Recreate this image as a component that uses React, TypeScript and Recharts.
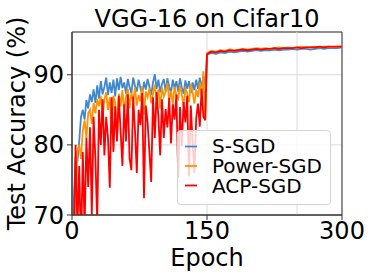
import React from 'react';
import { LineChart, Line, XAxis, YAxis, CartesianGrid, ReferenceLine, ReferenceArea, Legend } from 'recharts';

const FONT = '"DejaVu Sans", Verdana, sans-serif';

const title = 'VGG-16 on Cifar10';
const xLabel = 'Epoch';
const yLabel = 'Test Accuracy (%)';
const xTicks = [0, 150, 300];
const yTicks = [70, 80, 90];
const seriesNames = ['S-SGD', 'Power-SGD', 'ACP-SGD'];
const seriesColors = ['#3f88cf', '#ff9200', '#ff0000'];

const preEpochs = [
  0, 2, 4, 6, 8, 10, 12, 14, 16, 18,
  20, 22, 24, 26, 28, 30, 32, 34, 36, 38,
  40, 42, 44, 46, 48, 50, 52, 54, 56, 58,
  60, 62, 64, 66, 68, 70, 72, 74, 76, 78,
  80, 82, 84, 86, 88, 90, 92, 94, 96, 98,
  100, 102, 104, 106, 108, 110, 112, 114, 116, 118,
  120, 122, 124, 126, 128, 130, 132, 134, 136, 138,
  140, 142, 144, 146, 148, 150,
];
const postEpochs = [
  151, 153, 155, 160, 165, 170, 175, 180, 185, 190,
  195, 200, 205, 210, 215, 220, 225, 230, 235, 240,
  245, 250, 255, 260, 265, 270, 275, 280, 285, 290,
  295, 300,
];

const sSgdPre = [
  60, 72, 78.3, 77.5, 80.5, 84, 85, 83.6, 86.4, 85.2,
  87.2, 86.1, 87.9, 86, 88.5, 86.6, 89.1, 87.2, 88.3, 89.6,
  87.1, 88.9, 87.4, 89.3, 86.9, 89.5, 87.8, 89.7, 88.1, 88.9,
  87.3, 89.4, 88.2, 87.4, 89.6, 88.4, 87.6, 89.3, 88.1, 87.2,
  89, 87.9, 89.4, 88.3, 87.1, 88.9, 90.1, 88, 89.3, 87.5,
  88.7, 89.4, 87.6, 89.5, 88.3, 87.4, 89.3, 88, 89.1, 87.6,
  89.5, 88.2, 87.3, 89.2, 88, 89.1, 87.4, 88.9, 87.8, 89.3,
  88, 89.6, 88.1, 89.8, 88.6, 92.8,
];
const powerSgdPre = [
  60, 65, 72, 79, 80, 78, 82, 83.5, 81, 84.5,
  85, 83, 86, 84.5, 86.5, 85.5, 87, 84, 86.5, 87.5,
  85, 86.8, 82, 87, 86, 81, 87.3, 85.5, 87.8, 84.8,
  86.9, 88, 85.2, 87.4, 86.3, 88.2, 85.6, 87.1, 86.2, 88.4,
  84.3, 87.6, 86.8, 88.1, 85.9, 87.3, 88.6, 86.5, 87.9, 85.2,
  88.2, 86.9, 87.6, 88.8, 86.4, 87.7, 85.8, 88.3, 87.1, 86.6,
  88.5, 87.2, 85.5, 88, 87.4, 86.1, 88.7, 87.5, 85.9, 87.9,
  86.8, 88.9, 87, 90.5, 83.6, 93.1,
];
const acpSgdPre = [
  60, 66, 80, 68, 77, 65, 79, 68, 81, 74,
  82.5, 70, 84, 78, 69, 85, 80, 86.5, 78.5, 84,
  81, 73.9, 86.8, 79, 85.5, 80.5, 87, 82, 77, 85.8,
  80.5, 87.2, 78, 76.4, 86.9, 82, 76, 85, 82.8, 87.4,
  72.4, 85.6, 83.2, 79, 74.7, 86.8, 81, 87.5, 84, 78.5,
  86.5, 81, 85.1, 82.5, 86.7, 80.2, 85.8, 83.6, 87.2, 75.3,
  85.4, 79.8, 86.1, 83.2, 87, 75.5, 85.6, 80.4, 76, 83.8,
  85.9, 82.6, 88, 84, 83.5, 92.9,
];

const sSgdPost = [
  92.9, 93.0, 93.1, 93.0, 93.2, 93.1, 93.3, 93.2, 93.3, 93.4,
  93.3, 93.4, 93.5, 93.4, 93.5, 93.5, 93.6, 93.5, 93.6, 93.6,
  93.7, 93.6, 93.7, 93.7, 93.6, 93.7, 93.8, 93.7, 93.8, 93.8,
  93.8, 93.9,
];
const powerSgdPost = [
  93.1, 93.3, 93.4, 93.3, 93.5, 93.4, 93.6, 93.5, 93.6, 93.7,
  93.6, 93.7, 93.8, 93.7, 93.8, 93.7, 93.8, 93.9, 93.8, 93.9,
  93.8, 93.9, 94.0, 93.9, 93.9, 94.0, 93.9, 94.0, 94.0, 93.9,
  94.0, 94.0,
];
const acpSgdPost = [
  93.0, 93.2, 93.3, 93.2, 93.4, 93.3, 93.5, 93.4, 93.5, 93.6,
  93.5, 93.6, 93.7, 93.6, 93.7, 93.7, 93.8, 93.7, 93.8, 93.8,
  93.8, 93.9, 93.8, 93.9, 93.9, 93.9, 94.0, 93.9, 94.0, 94.0,
  94.0, 94.0,
];

const epochs = [...preEpochs, ...postEpochs];
const sSgd = [...sSgdPre, ...sSgdPost];
const powerSgd = [...powerSgdPre, ...powerSgdPost];
const acpSgd = [...acpSgdPre, ...acpSgdPost];

const data = epochs.map((e, i) => ({ epoch: e, s: sSgd[i], p: powerSgd[i], a: acpSgd[i] }));
const keys = ['s', 'p', 'a'];

const LegendBox = () => (
  <svg width={155} height={76} style={{ display: 'block' }}>
    <rect x={0.5} y={0.5} width={153} height={74} rx={3} ry={3} fill="rgba(255,255,255,0.8)" stroke="#d4d4d4" />
    {seriesNames.map((n, i) => (
      <g key={n}>
        <line x1={8} x2={20} y1={16.5 + i * 19.5} y2={16.5 + i * 19.5} stroke={seriesColors[i]} strokeWidth={1.8} />
        <text x={35} y={23 + i * 20} fontSize={20} fontFamily={FONT} fill="#000">{n}</text>
      </g>
    ))}
  </svg>
);

export default function App() {
  return (
    <div style={{ position: 'absolute', left: 0, top: 0, width: 374, height: 280, background: '#fff', fontFamily: FONT }}>
      <div style={{ position: 'absolute', left: 57, width: 300, top: 5, textAlign: 'center', fontSize: 24, lineHeight: '28px', color: '#000', whiteSpace: 'nowrap' }}>
        {title}
      </div>
      <LineChart width={374} height={280} data={data} margin={{ top: 32, right: 32, bottom: 0, left: 0 }}>
        <CartesianGrid stroke="#dadada" strokeWidth={1} />
        <ReferenceLine x={250} stroke="#dadada" strokeWidth={1} />
        <XAxis
          dataKey="epoch"
          type="number"
          domain={[0, 300]}
          ticks={xTicks}
          height={65}
          tickSize={5}
          tickMargin={2}
          interval={0}
          axisLine={{ stroke: '#333' }}
          tickLine={{ stroke: '#333' }}
          tick={{ fontSize: 24, fill: '#000', fontFamily: FONT }}
          label={{ value: xLabel, position: 'insideBottom', offset: 14, style: { fontSize: 24, fill: '#000', fontFamily: FONT } }}
        />
        <YAxis
          type="number"
          domain={[70, 96.1]}
          allowDataOverflow
          ticks={yTicks}
          width={72}
          tickSize={5}
          tickMargin={3}
          interval={0}
          axisLine={{ stroke: '#333' }}
          tickLine={{ stroke: '#333' }}
          tick={{ fontSize: 24, fill: '#000', fontFamily: FONT }}
          label={{ value: yLabel, angle: -90, position: 'insideLeft', offset: 16, style: { fontSize: 24, fill: '#000', fontFamily: FONT, textAnchor: 'middle' } }}
        />
        {keys.map((k, i) => (
          <Line key={k} dataKey={k} name={seriesNames[i]} type="linear" stroke={seriesColors[i]} strokeWidth={1.8} dot={false} isAnimationActive={false} />
        ))}
        <ReferenceArea x1={0} x2={300} y1={70} y2={96.1} fill="none" stroke="#333" strokeWidth={1} ifOverflow="extendDomain" />
        <Legend
          layout="vertical"
          align="center"
          verticalAlign="middle"
          wrapperStyle={{ position: 'absolute', left: 177, top: 130, width: 155, height: 76 }}
          content={() => <LegendBox />}
        />
      </LineChart>
    </div>
  );
}
